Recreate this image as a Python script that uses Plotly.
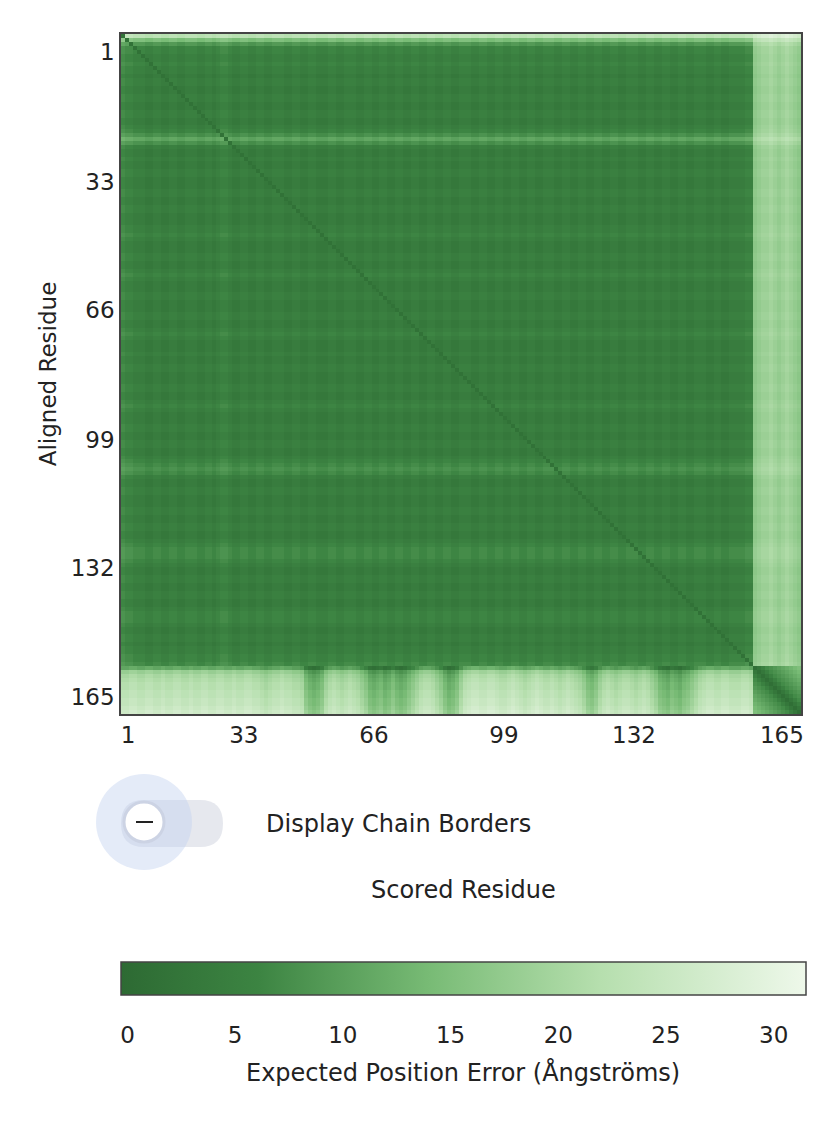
import numpy as np
import plotly.graph_objects as go

# chain lengths
n_a = 159
n_b = 12

# extra error per aligned residue (rows) in chain A
row_a = [20, 12, 6, 3, 3, 2, 2, 3, 2, 2, 1, 2, 2, 1, 1, 2, 2, 1, 1, 2,
         2, 1, 1, 2, 3, 5, 8, 5, 2, 1, 1, 2, 1, 1, 2, 2, 1, 1, 1, 2,
         2, 1, 1, 2, 2, 1, 1, 1, 2, 2, 3, 2, 1, 1, 1, 2, 2, 1, 1, 2,
         3, 2, 1, 1, 1, 2, 2, 1, 1, 1, 2, 2, 1, 1, 2, 3, 2, 1, 1, 1,
         2, 1, 1, 2, 2, 1, 1, 1, 2, 2, 1, 1, 2, 3, 2, 1, 1, 1, 2, 2,
         1, 1, 2, 2, 1, 1, 2, 3, 4, 5, 4, 2, 1, 1, 2, 2, 1, 1, 1, 2,
         2, 1, 1, 2, 2, 1, 1, 2, 3, 4, 4, 4, 3, 2, 1, 1, 2, 2, 1, 1,
         2, 2, 1, 1, 2, 3, 3, 3, 2, 1, 1, 2, 2, 1, 2, 2, 3, 3, 4]

# extra error per scored residue (columns) in chain A
col_a = [3, 2, 2, 1, 1, 1, 0, 0, 1, 1, 0, 0, 1, 1, 0, 0, 1, 1, 1, 0,
         0, 1, 1, 0, 1, 2, 2, 1, 0, 0, 1, 1, 0, 0, 1, 1, 0, 0, 1, 1,
         1, 0, 0, 1, 1, 0, 0, 1, 1, 0, 0, 0, 1, 1, 0, 0, 1, 1, 1, 0,
         0, 1, 1, 0, 0, 1, 1, 0, 0, 1, 1, 0, 0, 1, 1, 0, 0, 1, 1, 0,
         0, 1, 1, 0, 0, 1, 1, 1, 0, 0, 1, 1, 0, 0, 1, 1, 0, 0, 1, 1,
         0, 0, 1, 1, 0, 0, 1, 1, 1, 0, 0, 1, 1, 0, 0, 1, 1, 0, 0, 1,
         1, 0, 0, 1, 1, 0, 0, 1, 1, 1, 0, 0, 1, 1, 0, 0, 1, 1, 0, 0,
         1, 1, 0, 0, 1, 1, 1, 0, 0, 1, 1, 0, 0, 1, 1, 1, 1, 2, 2]

# chain B rows against chain A columns (per scored residue)
b_on_a = [22, 22, 23, 23, 22, 22, 23, 23, 22, 22, 23, 22, 22, 23, 23, 22, 22, 23, 22, 22,
          23, 23, 22, 22, 23, 23, 22, 22, 23, 22, 22, 23, 23, 22, 22, 21, 20, 21, 22, 22,
          23, 22, 22, 21, 21, 20, 15, 13, 12, 13, 15, 19, 21, 22, 21, 20, 21, 22, 21, 20,
          18, 16, 13, 12, 13, 14, 12, 13, 15, 13, 12, 13, 15, 17, 19, 21, 22, 22, 21, 19,
          17, 14, 12, 13, 15, 19, 22, 23, 24, 24, 23, 23, 24, 24, 23, 22, 22, 23, 24, 23,
          22, 21, 22, 23, 24, 23, 22, 22, 23, 22, 21, 22, 23, 22, 21, 20, 18, 15, 14, 16,
          19, 21, 22, 21, 20, 21, 22, 22, 21, 20, 21, 22, 21, 19, 17, 14, 13, 12, 14, 13,
          12, 14, 15, 17, 19, 21, 22, 23, 23, 22, 22, 23, 23, 22, 22, 22, 23, 23, 22]
# offset per chain B row
b_row = [-11, -4, -2, -1, 0, 0, 1, 1, 2, 2, 3, 4]

# chain A rows against chain B columns (per scored residue of B)
a_on_b = [16, 17, 18, 18, 19, 18, 17, 18, 19, 18, 17, 16]

# chain B self block error by distance from diagonal
b_self = [1, 3, 5, 7, 8, 9, 10, 11, 12, 13, 14, 15]

tick_labels = ["1", "33", "66", "99", "132", "165"]
x_tick_pos = [2.3, 31.4, 64.1, 96.8, 129.5, 166.7]
y_tick_pos = [5.0, 37.7, 69.9, 102.6, 134.8, 167.2]
cbar_ticks = [0, 5, 10, 15, 20, 25, 30]

n = n_a + n_b
z = np.zeros((n, n))
ra = np.array(row_a, dtype=float)
ca = np.array(col_a, dtype=float)
z[:n_a, :n_a] = 2.2 + ra[:, None] + ca[None, :]
idx = np.arange(n_a)
near = np.abs(idx[:, None] - idx[None, :])
z[:n_a, :n_a] = np.where(near < 1, 1.6, z[:n_a, :n_a])
z[:n_a, n_a:] = np.array(a_on_b)[None, :] + 0.5 * ra[:, None]
z[n_a:, :n_a] = np.array(b_on_a)[None, :] + np.array(b_row)[:, None]
bi = np.arange(n_b)
z[n_a:, n_a:] = np.array(b_self)[np.abs(bi[:, None] - bi[None, :])]
z = np.clip(z, 0, 31.5)

res = np.arange(1, n + 1)

colorscale = [[0, "#2d6a33"], [0.2, "#3c8442"], [0.45, "#78bb75"],
              [0.7, "#b6dfae"], [1, "#eef8ea"]]

W, H = 834, 1128
DX, DY = 7, 6          # page body offset
L, R, T = 120 - DX, 34 + DX, 32 - DY
pw = W - L - R
ph = H - T
FONT = "DejaVu Sans, sans-serif"
FS = 23


def px(x):
    return (x - DX - L) / pw


def py(y):
    return (H - (y - DY)) / ph


fig = go.Figure(go.Heatmap(
    x=res, y=res, z=z, zmin=-0.3, zmax=31.5, colorscale=colorscale,
    colorbar=dict(orientation="h", x=px(462.5), xanchor="center",
                  y=py(960), yanchor="top", len=685 / pw, thickness=33,
                  xpad=0, ypad=0, outlinecolor="#444", outlinewidth=1.5,
                  tickvals=cbar_ticks,
                  ticks="outside", ticklen=20, tickcolor="rgba(0,0,0,0)",
                  tickfont=dict(size=FS, color="#222")),
))

fig.update_xaxes(range=[0.5, n + 0.5], tickvals=x_tick_pos,
                 ticktext=tick_labels, ticks="", showgrid=False,
                 tickfont=dict(size=FS, color="#222"), showline=True, automargin=False,
                 linecolor="#444", linewidth=1.5, mirror=True, zeroline=False)
fig.update_yaxes(range=[n + 0.5, 0.5], domain=[py(712), 1],
                 tickvals=y_tick_pos,
                 ticktext=tick_labels, ticks="", showgrid=False,
                 tickfont=dict(size=FS, color="#222"), showline=True, automargin=False,
                 linecolor="#444", linewidth=1.5, mirror=True, zeroline=False,
                 title=dict(text="Aligned Residue", font=dict(size=FS, color="#222"),
                            standoff=8))

shapes = [
    dict(type="path", xref="paper", yref="paper",
         path=f"M {px(143)},{py(798)} L {px(199)},{py(798)} "
              f"Q {px(222)},{py(798)} {px(222)},{py(821.5)} "
              f"Q {px(222)},{py(845)} {px(199)},{py(845)} "
              f"L {px(143)},{py(845)} "
              f"Q {px(120)},{py(845)} {px(120)},{py(821.5)} "
              f"Q {px(120)},{py(798)} {px(143)},{py(798)} Z",
         fillcolor="#e6e8ee", line=dict(width=0), layer="below"),
    dict(type="circle", xref="paper", yref="paper", x0=px(95), x1=px(191),
         y0=py(868), y1=py(772), fillcolor="rgba(196,210,240,0.45)", line=dict(width=0)),
    dict(type="circle", xref="paper", yref="paper", x0=px(123), x1=px(163),
         y0=py(840), y1=py(800), fillcolor="white", line=dict(color="#ccd3e4", width=3)),
    dict(type="line", xref="paper", yref="paper", x0=px(135), x1=px(152),
         y0=py(820), y1=py(820), line=dict(color="#222", width=2)),
]
annotations = [
    dict(text="Display Chain Borders", xref="paper", yref="paper", x=px(263), y=py(822),
         xanchor="left", yanchor="middle", showarrow=False,
         font=dict(size=FS + 1, color="#222")),
    dict(text="Scored Residue", xref="paper", yref="paper", x=px(462), y=py(888),
         xanchor="center", yanchor="middle", showarrow=False,
         font=dict(size=FS + 1, color="#222")),
    dict(text="Expected Position Error (Ångströms)", xref="paper", yref="paper",
         x=px(462), y=py(1070), xanchor="center", yanchor="middle", showarrow=False,
         font=dict(size=FS + 1, color="#222")),
]

fig.update_layout(width=W, height=H, margin=dict(l=L, r=R, t=T, b=0),
                  paper_bgcolor="white", plot_bgcolor="white",
                  font=dict(family=FONT),
                  shapes=shapes, annotations=annotations)

fig.write_html("out.html")
